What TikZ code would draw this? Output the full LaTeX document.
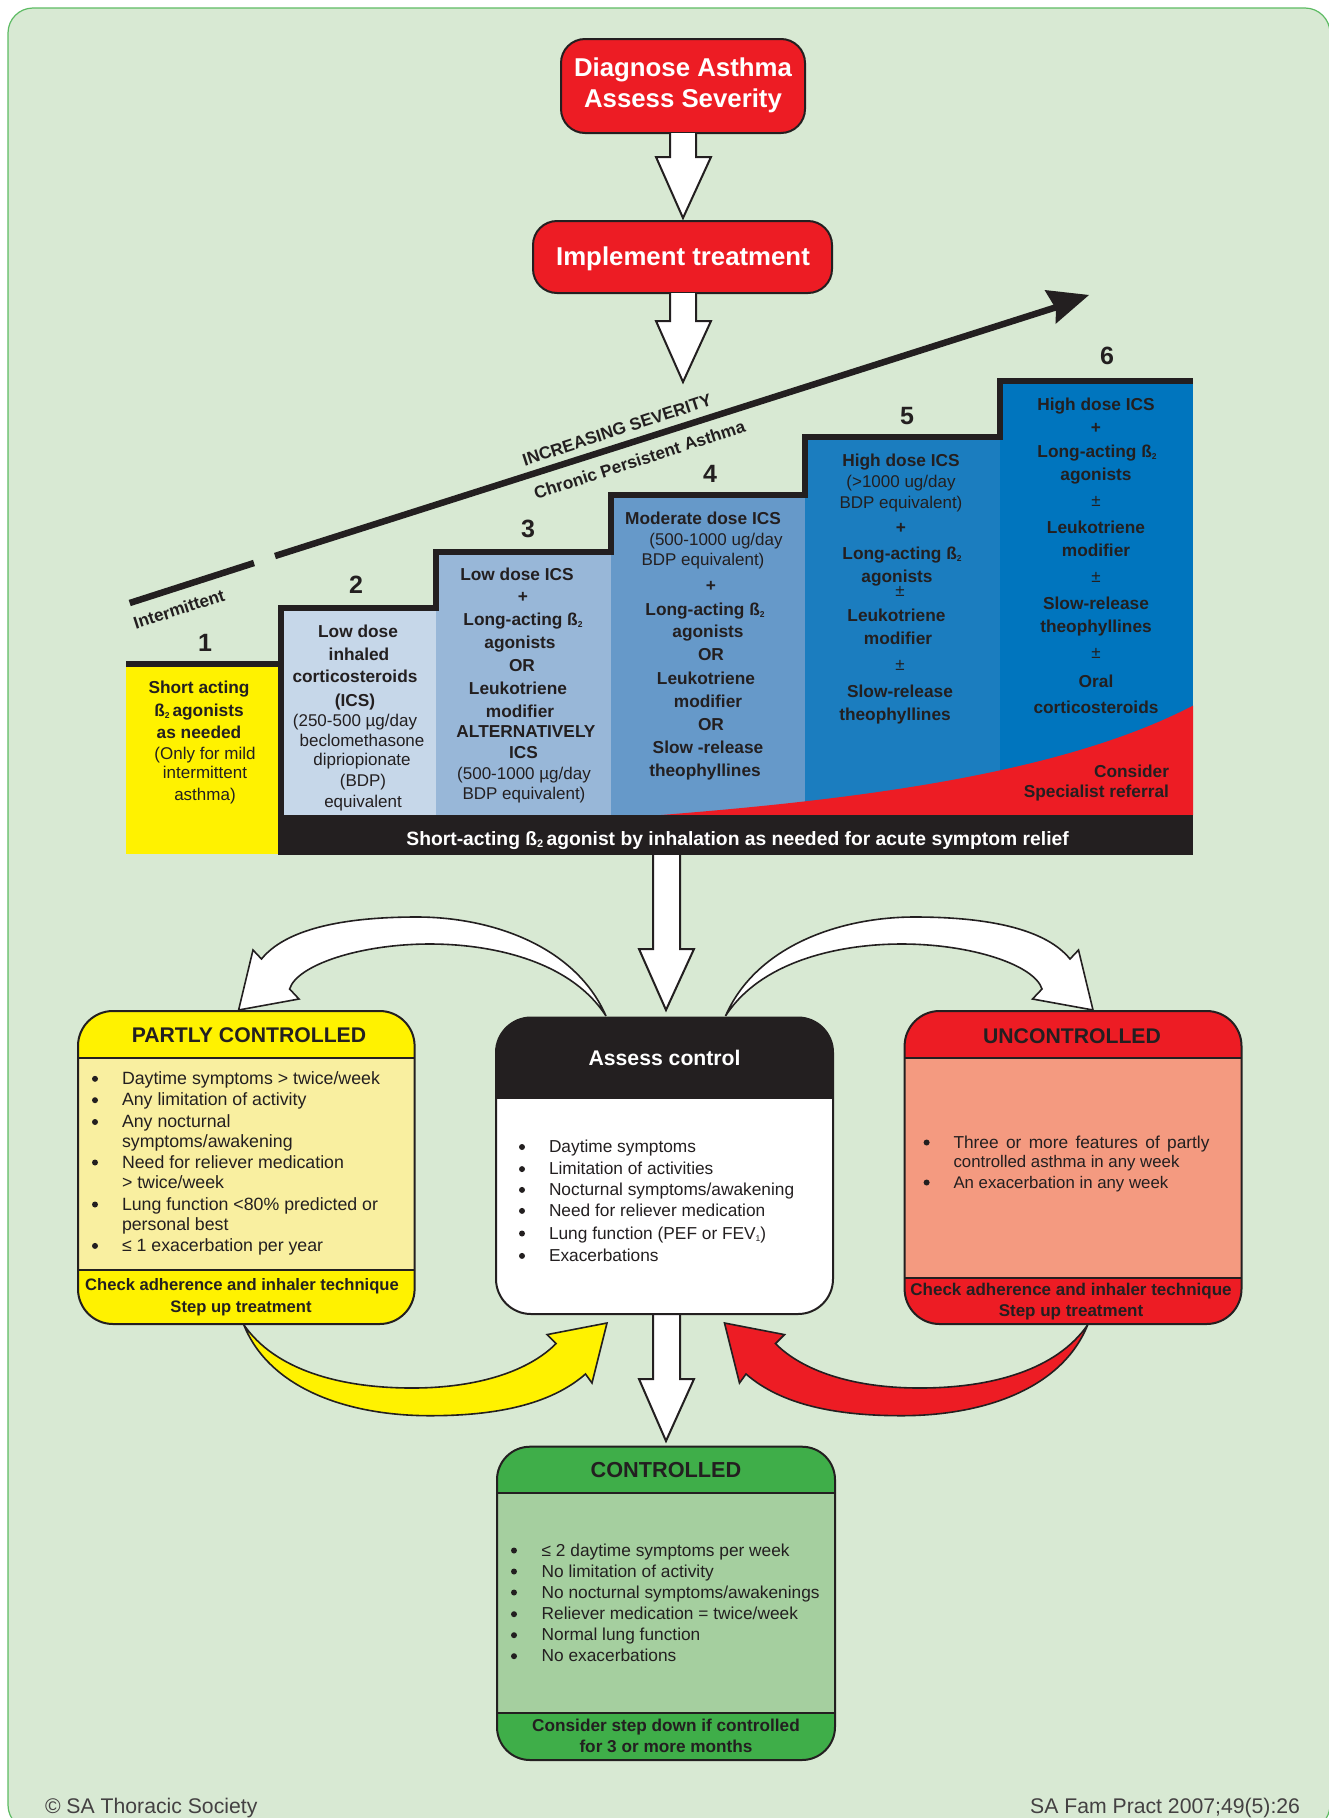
\documentclass[tikz,border=0pt]{standalone}
\usepackage{fontspec}
\setmainfont{Liberation Sans}
\definecolor{ink}{HTML}{231F20}
\definecolor{bgg}{HTML}{D8E9D3}
\definecolor{edgeg}{HTML}{5DBB63}
\definecolor{redf}{HTML}{ED1C24}
\definecolor{yel}{HTML}{FFF200}
\definecolor{yelp}{HTML}{F9EFA0}
\definecolor{salmon}{HTML}{F49A80}
\definecolor{grn}{HTML}{3FAE49}
\definecolor{grnp}{HTML}{A5CF9F}
\definecolor{stb}{HTML}{C6D7E9}
\definecolor{stc}{HTML}{98B7D8}
\definecolor{std}{HTML}{6699C9}
\definecolor{ste}{HTML}{1B7DBF}
\definecolor{stf}{HTML}{0075BE}
\newcommand{\fs}[1]{\fontsize{#1}{#1}\selectfont}
\newcommand{\subtwo}{\raisebox{-2pt}{\fs{8.5}2}}
\tikzset{
 every node/.style={inner sep=0pt,outer sep=0pt,text=ink},
 sb/.style={anchor=base,font=\fs{17.3}\bfseries},
 sr/.style={anchor=base,font=\fs{17}},
 num/.style={anchor=base,font=\fs{25}\bfseries},
 rot/.style={font=\fs{17.2}\bfseries,rotate=18},
 litem/.style={anchor=base west,font=\fs{17.3}},
 pitem/.style={anchor=base west,font=\fs{17.75}},
 uitem/.style={anchor=base west,font=\fs{16.8}},
 bul/.style={circle,fill=ink,minimum size=6pt},
 head/.style={anchor=base,font=\fs{21.2}\bfseries},
 foot/.style={anchor=base,font=\fs{16.6}\bfseries},
 topt/.style={anchor=base,font=\fs{25.8}\bfseries,text=white},
 wide/.style={draw=ink,line width=2pt,fill=white,line join=miter},
 curved/.style={draw=ink,line width=1.6pt,line join=miter},
 panel/.style={draw=ink,line width=2pt},
 credit/.style={font=\fs{21.2},text=ink!85},
}
\begin{document}
\begin{tikzpicture}[x=1pt,y=-1pt]
\useasboundingbox (0,0) rectangle (1329,1818);
\clip (0,0) rectangle (1329,1818);
\draw[edgeg,line width=1.2pt,fill=bgg,rounded corners=25pt] (8,8) rectangle (1330,1830);

% top boxes
\node[draw=ink,line width=2pt,fill=redf,rounded corners=24pt,minimum width=244pt,minimum height=94pt] (dx) at (683,86) {};
\node[topt] (dxa) at (683,76) {Diagnose Asthma};
\node[topt] (dxb) at (683,107) {Assess Severity};
\node[draw=ink,line width=2pt,fill=redf,rounded corners=24pt,minimum width=299pt,minimum height=72pt] (impl) at (682.5,257) {};
\node[topt] (impla) at (683,265) {Implement treatment};

% block arrows top
\draw[wide] (670,133)--(670,157)--(656,157)--(683,218)--(711,157)--(696,157)--(696,133);
\draw[wide] (670,293)--(670,321)--(656,321)--(683,382)--(711,321)--(696,321)--(696,293);

% severity arrow
\coordinate (ia) at (129.7,603);\coordinate (ib) at (254,563);\coordinate (ic) at (275,556);\coordinate (id) at (1060,306);
\draw[ink,line width=6.5pt] (ia)--(ib);
\draw[ink,line width=6.5pt] (ic)--(id);
\fill[ink] (1089,295)--(1044.5,290)--(1056,309)--(1055.5,324)--cycle;
\node[rot] (lint) at (179,609) {Intermittent};
\node[rot] (linc) at (617,430) {INCREASING SEVERITY};
\node[rot] (lchr) at (639.5,459.6) {Chronic Persistent Asthma};

% stairs fills
\fill[yel] (126,664) rectangle (279,854);
\fill[stb] (281,608) rectangle (436,815);
\fill[stc] (436,552) rectangle (611,815);
\fill[std] (611,495) rectangle (805,815);
\fill[ste] (805,437) rectangle (1000,815);
\fill[stf] (1000,381) rectangle (1193,815);
\fill[redf] (661,815) .. controls (850,800) and (1060,775) .. (1193,705.6) -- (1193,815) -- cycle;
\fill[ink] (278,814.5) rectangle (1193,855);
% stair line
\draw[ink,line width=6pt,line join=miter] (126,664)--(281,664)--(281,608)--(436,608)--(436,551.5)--(611,551.5)--(611,495)--(805,495)--(805,437)--(1000,437)--(1000,380.5)--(1193,380.5);
\draw[ink,line width=6pt] (281,664)--(281,854);

% numbers
\node[num] (n1) at (205,651) {1};
\node[num] (n2) at (356,593) {2};
\node[num] (n3) at (528,537) {3};
\node[num] (n4) at (710,482) {4};
\node[num] (n5) at (907,424) {5};
\node[num] (n6) at (1107,364) {6};

% step 1
\node[sb] (a1) at (199,693) {Short acting};
\node[sb] (a2) at (199,716) {ß\subtwo\,agonists};
\node[sb] (a3) at (199,738.5) {as needed};
\node[sr] (a4) at (205,759) {(Only for mild};
\node[sr] (a5) at (205,778) {intermittent};
\node[sr] (a6) at (205,800) {asthma)};
% step 2
\node[sb] (b1) at (358,637) {Low dose};
\node[sb] (b2) at (359,660) {inhaled};
\node[sb] (b3) at (355,682.5) {corticosteroids};
\node[sb] (b4) at (355,706) {(ICS)};
\node[sr] (b5) at (355,726) {(250-500 µg/day};
\node[sr] (b6) at (362,746) {beclomethasone};
\node[sr] (b7) at (362,765) {dipriopionate};
\node[sr] (b8) at (363,786) {(BDP)};
\node[sr] (b9) at (363,807.6) {equivalent};
% step 3
\node[sb] (c1) at (517,580) {Low dose ICS};
\node[sb] (c2) at (523,602) {+};
\node[sb] (c3) at (523,625.6) {Long-acting ß\subtwo};
\node[sb] (c4) at (520,648.5) {agonists};
\node[sb] (c5) at (522,671.5) {OR};
\node[sb] (c6) at (518,694) {Leukotriene};
\node[sb] (c7) at (520,717) {modifier};
\node[sb] (c8) at (526,737.7) {ALTERNATIVELY};
\node[sb] (c9) at (523.5,758) {ICS};
\node[sr] (c10) at (524,779) {(500-1000 µg/day};
\node[sr] (c11) at (524,799.5) {BDP equivalent)};
% step 4
\node[sb] (d1) at (703,524) {Moderate dose ICS};
\node[sr] (d2) at (716,545) {(500-1000 ug/day};
\node[sr] (d3) at (703,565) {BDP equivalent)};
\node[sb] (d4) at (711,591) {+};
\node[sb] (d5) at (705,615) {Long-acting ß\subtwo};
\node[sb] (d6) at (708,637) {agonists};
\node[sb] (d7) at (711,660) {OR};
\node[sb] (d8) at (706,684) {Leukotriene};
\node[sb] (d9) at (708,707) {modifier};
\node[sb] (d10) at (711,730) {OR};
\node[sb] (d11) at (708,753) {Slow -release};
\node[sb] (d12) at (705,776) {theophyllines};
% step 5
\node[sb] (e1) at (901,466) {High dose ICS};
\node[sr] (e2) at (901,487) {(>1000 ug/day};
\node[sr] (e3) at (901,508) {BDP equivalent)};
\node[sb] (e4) at (901,533) {+};
\node[sb] (e5) at (902,559) {Long-acting ß\subtwo};
\node[sb] (e6) at (897,582) {agonists};
\node[sr] (e7) at (900,596) {±};
\node[sb] (e8) at (896.5,621) {Leukotriene};
\node[sb] (e9) at (898,644) {modifier};
\node[sr] (e10) at (900,670) {±};
\node[sb] (e11) at (900,697) {Slow-release};
\node[sb] (e12) at (895,720) {theophyllines};
% step 6
\node[sb] (f1) at (1096,410.5) {High dose ICS};
\node[sb] (f2) at (1096,433) {+};
\node[sb] (f3) at (1097,457.6) {Long-acting ß\subtwo};
\node[sb] (f4) at (1096,480.5) {agonists};
\node[sr] (f5) at (1096,506.6) {±};
\node[sb] (f6) at (1096,533) {Leukotriene};
\node[sb] (f7) at (1096,556) {modifier};
\node[sr] (f8) at (1096,582) {±};
\node[sb] (f9) at (1096,609.5) {Slow-release};
\node[sb] (f10) at (1096,632.5) {theophyllines};
\node[sr] (f11) at (1096,658) {±};
\node[sb] (f12) at (1096,687) {Oral};
\node[sb] (f13) at (1096,713) {corticosteroids};
\node[sb,anchor=base east] (f14) at (1169,777.5) {Consider};
\node[sb,anchor=base east] (f15) at (1169,797.4) {Specialist referral};
\node[anchor=base,font=\fs{19.3}\bfseries,text=white] (bar) at (737.6,845.5) {Short-acting ß\raisebox{-2pt}{\fs{11}2}\,agonist by inhalation as needed for acute symptom relief};

% central block arrow
\draw[wide] (653,855)--(653,949)--(639,949)--(666,1010)--(694,949)--(680,949)--(680,855);
\draw[wide] (653,1314)--(653,1379)--(639,1379)--(666,1441)--(694,1379)--(680,1379)--(680,1314);

% curved arrows
\draw[curved,fill=white] (606,1016) .. controls (575,945) and (490,917) .. (417,917) .. controls (340,917) and (285,930) .. (261.5,959) -- (253,950) -- (238.6,1010) -- (299,999) -- (289.6,989) .. controls (297,965) and (360,944) .. (430,944) .. controls (490,944) and (570,960) .. (606,1016) -- cycle;
\draw[curved,fill=white] (725.5,1016) .. controls (756.5,945) and (841.5,917) .. (914.5,917) .. controls (991.5,917) and (1046.5,930) .. (1070,959) -- (1078.5,950) -- (1093,1010) -- (1032.5,999) -- (1042,989) .. controls (1034.5,965) and (971.5,944) .. (901.5,944) .. controls (841.5,944) and (761.5,960) .. (725.5,1016) -- cycle;
\draw[curved,fill=yel] (243.7,1324.6) .. controls (270,1390) and (350,1415.7) .. (430,1415.7) .. controls (495,1415.7) and (550,1405) .. (585.5,1374) -- (592,1383) -- (607,1323) -- (547,1334.6) -- (556,1343.6) .. controls (530,1370) and (480,1388) .. (412,1388) .. controls (340,1388) and (275,1370) .. (243.7,1324.6) -- cycle;
\draw[curved,fill=redf] (1087.8,1324.6) .. controls (1061.5,1390) and (981.5,1415.7) .. (901.5,1415.7) .. controls (836.5,1415.7) and (781.5,1405) .. (746,1374) -- (739.5,1383) -- (724.5,1323) -- (784.5,1334.6) -- (775.5,1343.6) .. controls (801.5,1370) and (851.5,1388) .. (919.5,1388) .. controls (991.5,1388) and (1056.5,1370) .. (1087.8,1324.6) -- cycle;

% partly controlled panel
\begin{scope}
\clip[rounded corners=35pt] (78,1011) rectangle (414.6,1324);
\fill[yel] (78,1011) rectangle (414.6,1057.5);
\fill[yelp] (78,1057.5) rectangle (414.6,1270);
\fill[yel] (78,1270) rectangle (414.6,1324);
\end{scope}
\draw[panel,rounded corners=35pt] (78,1011) rectangle (414.6,1324);
\draw[panel] (78,1057.5)--(414.6,1057.5);
\draw[panel] (78,1270)--(414.6,1270);
\node[head] (pt) at (249,1042.5) {PARTLY CONTROLLED};
\foreach \n/\y in {1/1084.3,2/1105.7,3/1127.5,4/1168,5/1210,6/1251.4}
  \node[bul] (pb\n) at (95,\y-5.5) {};
\node[pitem] (p1) at (122,1084.3) {Daytime symptoms > twice/week};
\node[pitem] (p2) at (122,1105.7) {Any limitation of activity};
\node[pitem] (p3) at (122,1127.5) {Any nocturnal};
\node[pitem] (p4) at (122,1147) {symptoms/awakening};
\node[pitem] (p5) at (122,1168) {Need for reliever medication};
\node[pitem] (p6) at (122,1188) {> twice/week};
\node[pitem] (p7) at (122,1210) {Lung function <80\% predicted or};
\node[pitem] (p8) at (122,1230) {personal best};
\node[pitem] (p9) at (122,1251.4) {≤ 1 exacerbation per year};
\node[foot] (pf1) at (242,1290.7) {Check adherence and inhaler technique};
\node[foot] (pf2) at (241,1312) {Step up treatment};

% assess panel
\begin{scope}
\clip[rounded corners=35pt] (496,1017.5) rectangle (833,1314);
\fill[white] (496,1017.5) rectangle (833,1314);
\fill[ink] (496,1017.5) rectangle (833,1098.6);
\end{scope}
\draw[panel,rounded corners=35pt] (496,1017.5) rectangle (833,1314);
\node[head,text=white] (at) at (664.6,1065.7) {Assess control};
\foreach \n/\y in {1/1152.5,2/1174.6,3/1195.4,4/1216.4,5/1239,6/1261.4}
  \node[bul] (ab\n) at (522,\y-5.5) {};
\node[litem] (a1x) at (549,1152.5) {Daytime symptoms};
\node[litem] (a2x) at (549,1174.6) {Limitation of activities};
\node[litem] (a3x) at (549,1195.4) {Nocturnal symptoms/awakening};
\node[litem] (a4x) at (549,1216.4) {Need for reliever medication};
\node[litem] (a5x) at (549,1239) {Lung function (PEF or FEV\raisebox{-2pt}{\fs{8.5}1})};
\node[litem] (a6x) at (549,1261.4) {Exacerbations};

% uncontrolled panel
\begin{scope}
\clip[rounded corners=35pt] (904.6,1011) rectangle (1241.5,1324);
\fill[redf] (904.6,1011) rectangle (1241.5,1324);
\fill[salmon] (904.6,1057.5) rectangle (1241.5,1277.5);
\end{scope}
\draw[panel,rounded corners=35pt] (904.6,1011) rectangle (1241.5,1324);
\draw[panel] (904.6,1057.5)--(1241.5,1057.5);
\draw[panel] (904.6,1277.5)--(1241.5,1277.5);
\node[head] (ut) at (1072,1043.6) {UNCONTROLLED};
\node[bul] (ub1) at (926.6,1142.5) {};
\node[bul] (ub2) at (926.6,1182.5) {};
\node[litem] (u1) at (953.5,1148) {\makebox[256pt][s]{Three or more features of partly}};
\node[uitem] (u2) at (953.5,1167.5) {controlled asthma in any week};
\node[uitem] (u3) at (953.5,1188) {An exacerbation in any week};
\node[foot,font=\fs{17}\bfseries] (uf1) at (1071,1295) {Check adherence and inhaler technique};
\node[foot,font=\fs{17}\bfseries] (uf2) at (1071,1316) {Step up treatment};

% controlled panel
\begin{scope}
\clip[rounded corners=33pt] (497,1446.7) rectangle (835,1760);
\fill[grn] (497,1446.7) rectangle (835,1760);
\fill[grnp] (497,1493) rectangle (835,1713);
\end{scope}
\draw[panel,rounded corners=33pt] (497,1446.7) rectangle (835,1760);
\draw[panel] (497,1493)--(835,1493);
\draw[panel] (497,1713)--(835,1713);
\node[head,font=\fs{21.7}\bfseries] (ct) at (666,1477) {CONTROLLED};
\foreach \n/\y in {1/1556,2/1577,3/1598,4/1619.7,5/1640.7,6/1661.7}
  \node[bul] (cb\n) at (514,\y-5.5) {};
\node[litem] (c1x) at (541.7,1556) {≤ 2 daytime symptoms per week};
\node[litem] (c2x) at (541.7,1577) {No limitation of activity};
\node[litem] (c3x) at (541.7,1598) {No nocturnal symptoms/awakenings};
\node[litem] (c4x) at (541.7,1619.7) {Reliever medication = twice/week};
\node[litem] (c5x) at (541.7,1640.7) {Normal lung function};
\node[litem] (c6x) at (541.7,1661.7) {No exacerbations};
\node[foot,font=\fs{17.2}\bfseries] (cf1) at (666,1731) {Consider step down if controlled};
\node[foot,font=\fs{17.2}\bfseries] (cf2) at (666,1752) {for 3 or more months};

% credits
\node[credit,anchor=base west] (cr1) at (45,1813) {© SA Thoracic Society};
\node[credit,anchor=base east] (cr2) at (1300,1813) {SA Fam Pract 2007;49(5):26};
\end{tikzpicture}
\end{document}
